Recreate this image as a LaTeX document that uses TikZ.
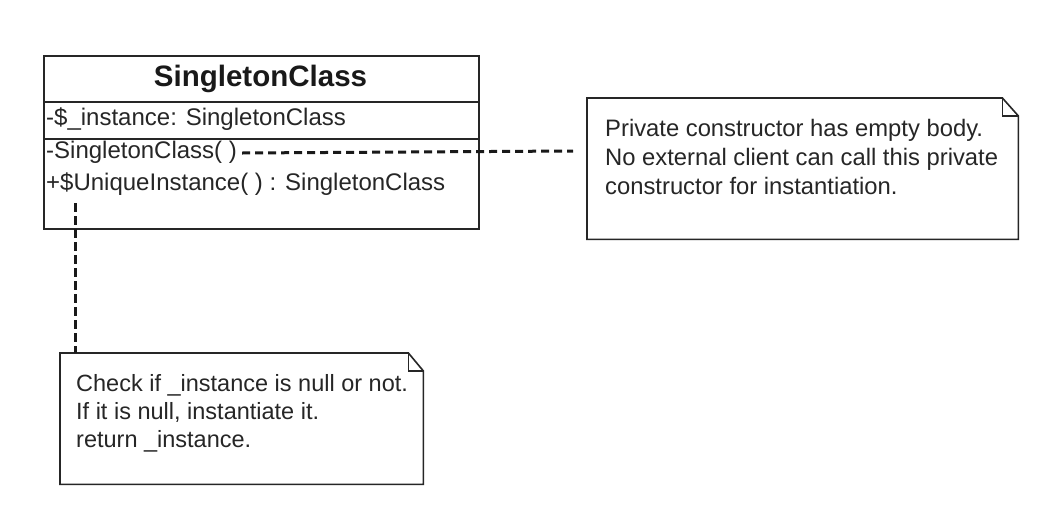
\documentclass[tikz,border=0pt]{standalone}
\usepackage{fontspec}
\setmainfont{Liberation Sans}
\begin{document}
\begin{tikzpicture}[x=1pt,y=-1pt,
  boxline/.style={draw=black!85, line width=1.6pt},
  member/.style={anchor=west, inner sep=0pt, font=\fontsize{24}{28}\selectfont, text=black!85},
  notetext/.style={anchor=north west, inner sep=0pt, align=left, font=\fontsize{23.8}{29}\selectfont, text=black!85},
  link/.style={draw=black!90, line width=3pt, dash pattern=on 8pt off 5pt},
  vlink/.style={draw=black!90, line width=3pt, dash pattern=on 9pt off 4pt},
]
\useasboundingbox[fill=white] (0,0) rectangle (1044,512);
% class box
\node[boxline, rectangle, minimum width=435pt, minimum height=173pt, anchor=north west, inner sep=0pt] (cls) at (43,55) {};
\node[font=\fontsize{29.5}{34}\selectfont\bfseries, text=black!90] (title) at (260.5,79) {SingletonClass};
\coordinate (sep1) at (43,102);
\coordinate (sep2) at (43,139);
\draw[boxline] (sep1) -- (sep1 -| cls.east);
\draw[boxline] (sep2) -- (sep2 -| cls.east);
\node[member] (attr) at (46,119) {-\$\_instance: SingletonClass};
\node[member] (ctor) at (46,152) {-SingletonClass( )};
\node[member] (uniq) at (46,184) {+\$UniqueInstance( ) : SingletonClass};
% note 1
\node[rectangle, minimum width=431pt, minimum height=141pt, anchor=north west, inner sep=0pt] (n1) at (587,98) {};
\draw[boxline] (n1.north west) -- ([xshift=-16pt]n1.north east) -- ([yshift=-18pt]n1.north east) -- (n1.south east) -- (n1.south west) -- cycle;
\draw[boxline, line width=1.2pt] ([xshift=-16pt]n1.north east) -- ([xshift=-16pt,yshift=-18pt]n1.north east) -- ([yshift=-18pt]n1.north east);
\node[notetext] (n1text) at (605,119) {Private constructor has empty body.\\No external client can call this private\\constructor for instantiation.};
% note 2
\node[rectangle, minimum width=363pt, minimum height=131pt, anchor=north west, inner sep=0pt] (n2) at (60,353) {};
\draw[boxline] (n2.north west) -- ([xshift=-15pt]n2.north east) -- ([yshift=-18pt]n2.north east) -- (n2.south east) -- (n2.south west) -- cycle;
\draw[boxline, line width=1.2pt] ([xshift=-15pt]n2.north east) -- ([xshift=-15pt,yshift=-18pt]n2.north east) -- ([yshift=-18pt]n2.north east);
\node[notetext, font=\fontsize{23.5}{28}\selectfont] (n2text) at (76,374) {Check if \_instance is null or not.\\If it is null, instantiate it.\\return \_instance.};
% connectors
\coordinate (e1) at (573,151);
\draw[link] ([xshift=5pt,yshift=-1pt]ctor.east) -- (e1);
\coordinate (v1) at (75,203);
\draw[vlink] (v1) -- (v1 |- n2.north);
\end{tikzpicture}
\end{document}
